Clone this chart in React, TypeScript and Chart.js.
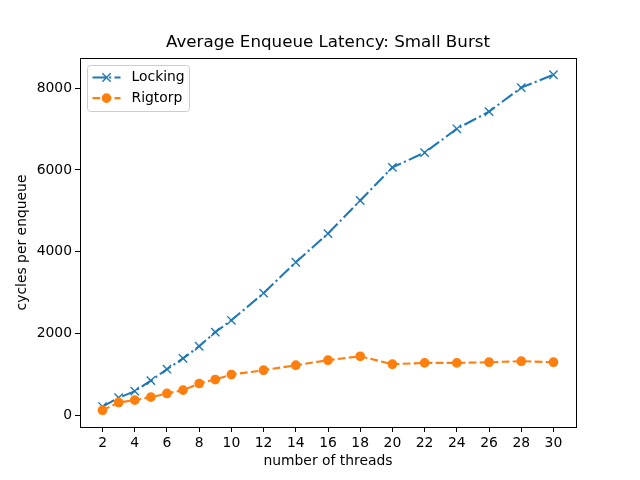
import React, { useEffect, useRef } from "react";
import { Chart, registerables } from "chart.js";

Chart.register(...registerables);

const threads = [2, 3, 4, 5, 6, 7, 8, 9, 10, 12, 14, 16, 18, 20, 22, 24, 26, 28, 30];
const locking = [210, 425, 586, 845, 1124, 1390, 1686, 2030, 2321, 2985, 3742, 4443, 5253, 6063, 6425, 7008, 7427, 8017, 8330];
const rigtorp = [120, 310, 366, 440, 530, 611, 774, 871, 994, 1099, 1222, 1344, 1441, 1246, 1278, 1278, 1295, 1319, 1295];
const xTicks = [2, 4, 6, 8, 10, 12, 14, 16, 18, 20, 22, 24, 26, 28, 30];
const yTicks = [0, 2000, 4000, 6000, 8000];
const seriesNames = ["Locking", "Rigtorp"];
const titleText = "Average Enqueue Latency: Small Burst";
const xLabel = "number of threads";
const yLabel = "cycles per enqueue";

const FONT = "'DejaVu Sans', sans-serif";

function range(vals: number[]) {
  const mn = Math.min(...vals);
  const mx = Math.max(...vals);
  const m = (mx - mn) * 0.05;
  return [mn - m, mx + m];
}

const framePlugin = {
  id: "frame",
  afterDraw(chart: any) {
    const { ctx, chartArea: a } = chart;
    ctx.save();
    ctx.strokeStyle = "#000";
    ctx.lineWidth = 1;
    ctx.strokeRect(Math.round(a.left) + 0.5, Math.round(a.top) + 0.5, Math.round(a.right - a.left), Math.round(a.bottom - a.top));
    // title
    ctx.fillStyle = "#000";
    ctx.font = `16.7px ${FONT}`;
    ctx.textAlign = "center";
    ctx.textBaseline = "middle";
    ctx.fillText(titleText, (a.left + a.right) / 2, 43);
    // legend
    const lx = a.left + 7.5, ly = a.top + 7.5, lw = 102, lh = 46;
    ctx.beginPath();
    const r = 3;
    ctx.moveTo(lx + r, ly);
    ctx.lineTo(lx + lw - r, ly);
    ctx.quadraticCurveTo(lx + lw, ly, lx + lw, ly + r);
    ctx.lineTo(lx + lw, ly + lh - r);
    ctx.quadraticCurveTo(lx + lw, ly + lh, lx + lw - r, ly + lh);
    ctx.lineTo(lx + r, ly + lh);
    ctx.quadraticCurveTo(lx, ly + lh, lx, ly + lh - r);
    ctx.lineTo(lx, ly + r);
    ctx.quadraticCurveTo(lx, ly, lx + r, ly);
    ctx.closePath();
    ctx.fillStyle = "rgba(255,255,255,0.8)";
    ctx.fill();
    ctx.strokeStyle = "#cccccc";
    ctx.lineWidth = 1;
    ctx.stroke();
    chart.data.datasets.forEach((ds: any, i: number) => {
      const cy = ly + 12 + i * 20.6;
      ctx.save();
      ctx.strokeStyle = ds.borderColor;
      ctx.lineWidth = ds.borderWidth;
      ctx.setLineDash(ds.borderDash);
      ctx.beginPath();
      ctx.moveTo(lx + 5, cy);
      ctx.lineTo(lx + 33, cy);
      ctx.stroke();
      ctx.setLineDash([]);
      const mx = lx + 19;
      if (ds.pointStyle === "crossRot") {
        const o = ds.pointRadius * Math.SQRT1_2;
        ctx.beginPath();
        ctx.moveTo(mx - o, cy - o);
        ctx.lineTo(mx + o, cy + o);
        ctx.moveTo(mx - o, cy + o);
        ctx.lineTo(mx + o, cy - o);
        ctx.lineWidth = ds.pointBorderWidth;
        ctx.stroke();
      } else {
        ctx.beginPath();
        ctx.arc(mx, cy, ds.pointRadius, 0, Math.PI * 2);
        ctx.fillStyle = ds.pointBackgroundColor;
        ctx.fill();
        ctx.lineWidth = ds.pointBorderWidth;
        ctx.strokeStyle = ds.pointBorderColor;
        ctx.stroke();
      }
      ctx.restore();
      ctx.fillStyle = "#000";
      ctx.font = `13.9px ${FONT}`;
      ctx.textAlign = "left";
      ctx.textBaseline = "middle";
      ctx.fillText(ds.label, lx + 44, cy);
    });
    ctx.restore();
  },
};

export default function App() {
  const ref = useRef<HTMLCanvasElement>(null);
  useEffect(() => {
    if (!ref.current) return;
    const [xmin, xmax] = range(threads);
    const [ymin, ymax] = range([...locking, ...rigtorp]);
    const chart = new Chart(ref.current, {
      type: "line",
      data: {
        datasets: [
          {
            label: seriesNames[0],
            data: threads.map((t, i) => ({ x: t, y: locking[i] })),
            order: 1,
            borderColor: "#1f77b4",
            backgroundColor: "#1f77b4",
            borderWidth: 2.08,
            borderDash: [13.3, 3.3, 2.1, 3.3],
            pointStyle: "crossRot",
            pointRadius: 5.9,
            pointBorderWidth: 1.39,
            pointBorderColor: "#1f77b4",
            pointBackgroundColor: "#1f77b4",
            tension: 0,
          } as any,
          {
            label: seriesNames[1],
            data: threads.map((t, i) => ({ x: t, y: rigtorp[i] })),
            order: 0,
            borderColor: "#ff7f0e",
            backgroundColor: "#ff7f0e",
            borderWidth: 2.08,
            borderDash: [7.7, 3.3],
            pointStyle: "circle",
            pointRadius: 4.17,
            pointBorderWidth: 1.39,
            pointBorderColor: "#ff7f0e",
            pointBackgroundColor: "#ff7f0e",
            tension: 0,
          } as any,
        ],
      },
      options: {
        responsive: false,
        animation: false,
        devicePixelRatio: 1,
        layout: { padding: { left: 0, top: 58, right: 64, bottom: 0 } },
        plugins: { legend: { display: false }, title: { display: false }, tooltip: { enabled: false } },
        scales: {
          x: {
            type: "linear",
            min: xmin,
            max: xmax,
            afterBuildTicks: (s: any) => { s.ticks = xTicks.map((v) => ({ value: v })); },
            afterFit: (s: any) => { s.height = 53; },
            grid: { drawOnChartArea: false, drawTicks: true, tickLength: 5, color: "#000" },
            border: { display: true, color: "#000" },
            ticks: { color: "#000", font: { family: FONT, size: 13.9 }, padding: 3, maxRotation: 0, autoSkip: false },
            title: { display: true, text: xLabel, color: "#000", font: { family: FONT, size: 13.9 }, padding: { top: 0, bottom: 10 } },
          },
          y: {
            type: "linear",
            min: ymin,
            max: ymax,
            afterBuildTicks: (s: any) => { s.ticks = yTicks.map((v) => ({ value: v })); },
            afterFit: (s: any) => { s.width = 80; },
            grid: { drawOnChartArea: false, drawTicks: true, tickLength: 5, color: "#000" },
            border: { display: true, color: "#000" },
            ticks: { color: "#000", font: { family: FONT, size: 13.9 }, padding: 3, autoSkip: false, callback: (v: any) => String(v) },
            title: { display: true, text: yLabel, color: "#000", font: { family: FONT, size: 13.9 }, padding: { top: 14, bottom: 0 } },
          },
        },
      },
      plugins: [framePlugin],
    });
    return () => chart.destroy();
  }, []);
  return (
    <div style={{ position: "fixed", left: 0, top: 0, width: 640, height: 480, background: "#fff" }}>
      <canvas ref={ref} width={640} height={480} />
    </div>
  );
}
